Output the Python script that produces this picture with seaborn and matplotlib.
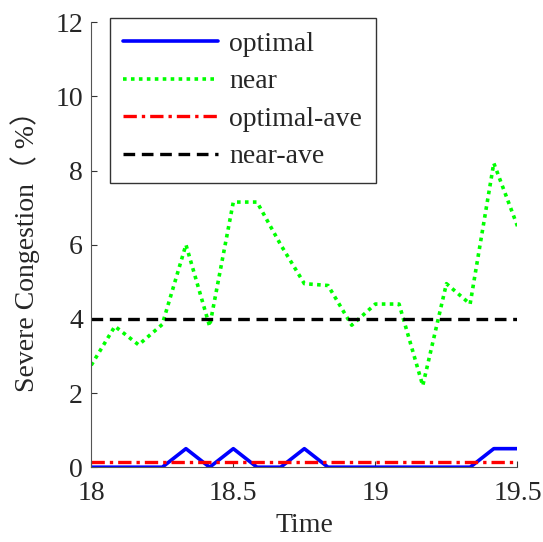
"""
Severe congestion share: optimal vs near routing
"""
import numpy as np
import pandas as pd
import matplotlib
matplotlib.use("Agg")
import matplotlib.pyplot as plt
import seaborn as sns

# Data
minutes = [0, 5, 10, 15, 20, 25, 30, 35, 40, 45, 50, 55, 60, 65, 70, 75, 80, 85, 90]
optimal = [0, 0, 0, 0, 0.5, 0, 0.5, 0, 0, 0.5, 0, 0, 0, 0, 0, 0, 0, 0.5, 0.5]
near = [2.75, 3.8, 3.3, 3.85, 6.0, 3.8, 7.15, 7.15, 6.0, 4.95, 4.9, 3.83,
        4.4, 4.4, 2.2, 4.95, 4.4, 8.2, 6.5]
optimal_ave = 0.13
near_ave = 4.0
labels = ["optimal", "near", "optimal-ave", "near-ave"]

time = 18 + np.array(minutes) / 60.0

sns.set_style("white")
plt.rcParams["font.family"] = ["Liberation Serif", "Noto Sans CJK SC"]

fig = plt.figure(figsize=(5.43, 5.42), dpi=100)
ax = fig.add_axes([0.168, 0.138, 0.785, 0.821])

sns.lineplot(x=time, y=optimal, ax=ax, color="#0000ff", lw=2.6, label=labels[0])
sns.lineplot(x=time, y=near, ax=ax, color="#00ff00", lw=2.6, ls=(0, (1, 1.2)),
             label=labels[1])
sns.lineplot(x=time, y=[optimal_ave] * len(time), ax=ax, color="#ff0000", lw=2.4,
             ls=(0, (4, 1.5, 1, 1.5)), label=labels[2])
sns.lineplot(x=time, y=[near_ave] * len(time), ax=ax, color="black", lw=2.4,
             ls=(0, (3.5, 2)), label=labels[3])

ax.set_xlim(18, 19.5)
ax.set_ylim(0, 12)
ax.set_xticks([18, 18.5, 19, 19.5])
ax.set_xticklabels(["18", "18.5", "19", "19.5"])
ax.set_yticks([0, 2, 4, 6, 8, 10, 12])

for side in ["top", "right"]:
    ax.spines[side].set_visible(False)
for side in ["left", "bottom"]:
    ax.spines[side].set_color("#555555")
    ax.spines[side].set_linewidth(0.8)
ax.tick_params(direction="in", length=4, width=0.8, color="#333333",
               labelsize=20, left=True, bottom=True)
ax.tick_params(axis="x", pad=10)
ax.tick_params(axis="y", pad=6)

ax.set_xlabel("Time", fontsize=20, labelpad=5)
ax.set_ylabel("Severe Congestion（ %）", fontsize=20, labelpad=11)

leg = ax.legend(loc="upper left", bbox_to_anchor=(0.043, 1.01), fontsize=20,
                frameon=True, fancybox=False, edgecolor="black",
                handlelength=3.4, borderpad=0.5, labelspacing=0.43,
                handletextpad=0.4, borderaxespad=0)
leg.get_frame().set_linewidth(1.0)

fig.savefig("out.png", dpi=100)
